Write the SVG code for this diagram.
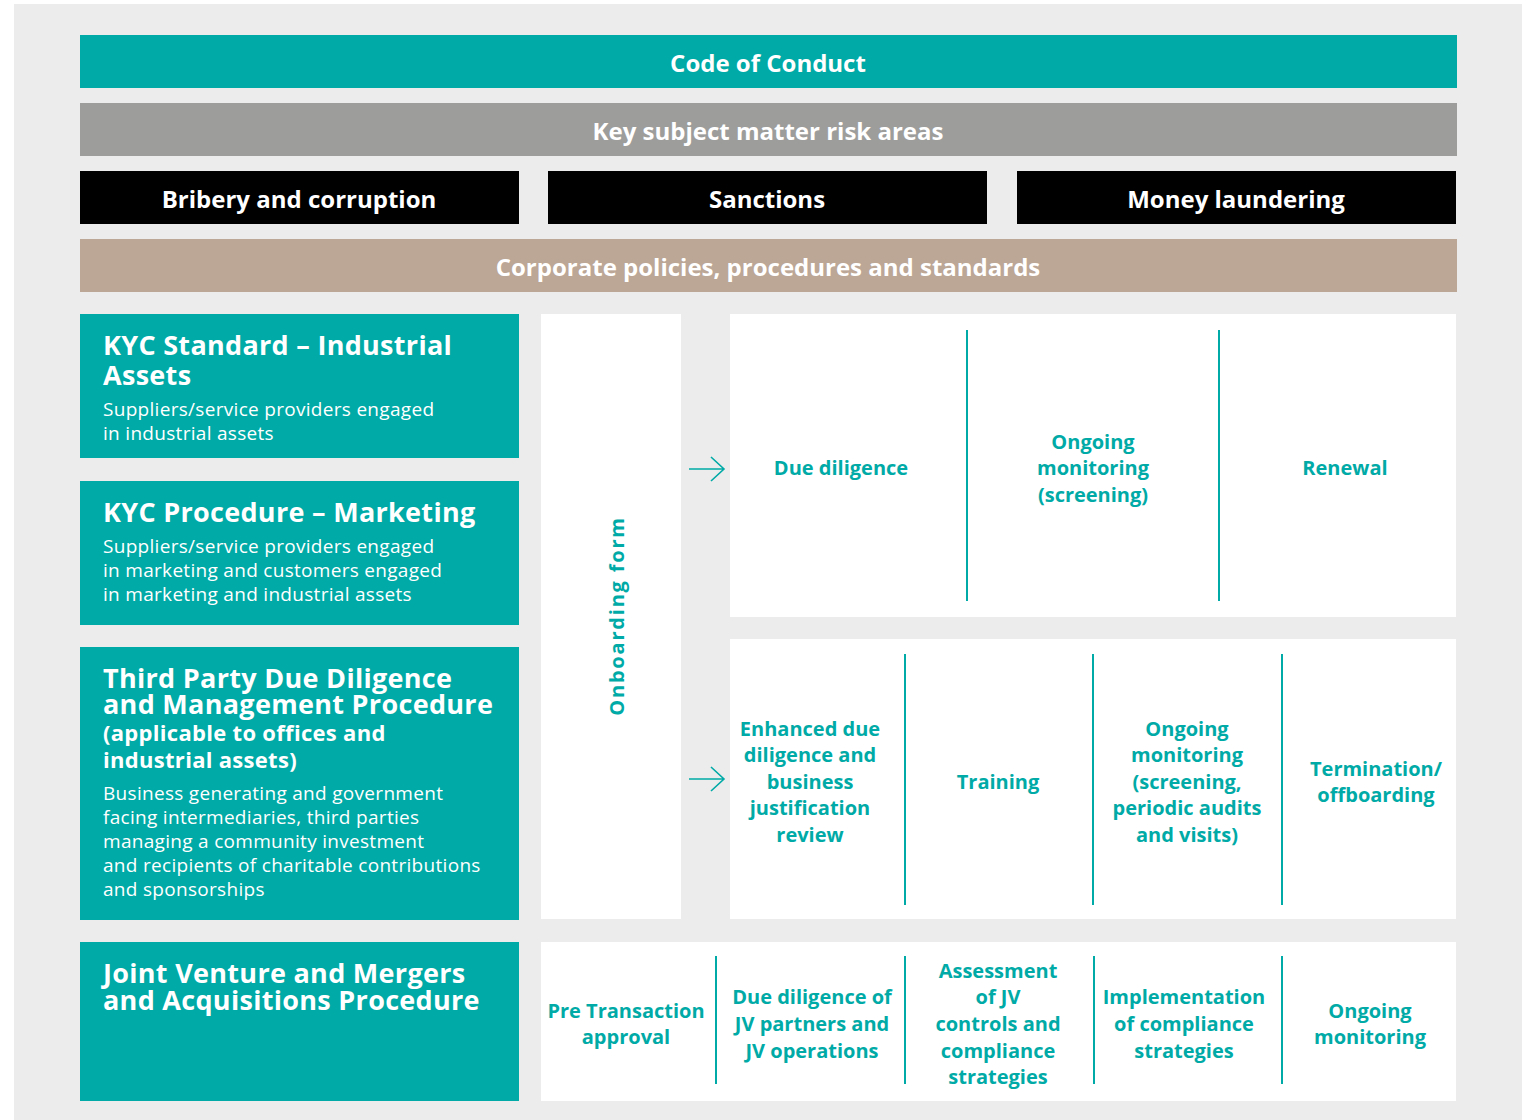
<svg xmlns="http://www.w3.org/2000/svg" width="1522" height="1120" viewBox="0 0 1522 1120">
<style>
.bg{fill:#ececec}
.teal{fill:#00aaa6}
.white{fill:#ffffff}
.hd{font-family:"Open Sans","Liberation Sans",sans-serif;font-weight:700;fill:#ffffff;text-anchor:middle;font-size:24px}
.tt{font-family:"Open Sans","Liberation Sans",sans-serif;font-weight:700;fill:#ffffff;letter-spacing:0.3px}
.bd{font-family:"Open Sans","Liberation Sans",sans-serif;font-weight:400;fill:#ffffff;font-size:19px;letter-spacing:0.3px}
.lb{font-family:"Open Sans","Liberation Sans",sans-serif;font-weight:700;fill:#00aaa6;text-anchor:middle;font-size:20px}
.div{stroke:#00aaa6;stroke-width:2;fill:none}
.arr{stroke:#00aaa6;stroke-width:1.6;fill:none}
</style>
<rect x="0" y="0" width="1522" height="1120" fill="#ffffff"/>
<rect class="bg" x="14" y="4" width="1508" height="1116"/>

<g id="code-of-conduct">
<rect class="teal" x="80" y="35" width="1377" height="53"/>
<text class="hd" x="768" y="72">Code of Conduct</text>
</g>
<g id="key-risk-areas">
<rect x="80" y="103" width="1377" height="53" fill="#9d9d9b"/>
<text class="hd" x="768" y="140">Key subject matter risk areas</text>
</g>
<g id="bribery">
<rect x="80" y="171" width="439" height="53" fill="#000000"/>
<text class="hd" x="299" y="208">Bribery and corruption</text>
</g>
<g id="sanctions">
<rect x="548" y="171" width="439" height="53" fill="#000000"/>
<text class="hd" x="767" y="208">Sanctions</text>
</g>
<g id="money-laundering">
<rect x="1017" y="171" width="439" height="53" fill="#000000"/>
<text class="hd" x="1236" y="208">Money laundering</text>
</g>
<g id="corporate-policies">
<rect x="80" y="239" width="1377" height="53" fill="#bca695"/>
<text class="hd" x="768" y="276">Corporate policies, procedures and standards</text>
</g>

<g id="kyc-standard">
<rect class="teal" x="80" y="314" width="439" height="144"/>
<text class="tt" x="103" y="355" font-size="27">KYC Standard – Industrial</text>
<text class="tt" x="103" y="385" font-size="27">Assets</text>
<text class="bd" x="103" y="416">Suppliers/service providers engaged</text>
<text class="bd" x="103" y="440">in industrial assets</text>
</g>
<g id="kyc-procedure">
<rect class="teal" x="80" y="481" width="439" height="144"/>
<text class="tt" x="103" y="522" font-size="27">KYC Procedure – Marketing</text>
<text class="bd" x="103" y="553">Suppliers/service providers engaged</text>
<text class="bd" x="103" y="577">in marketing and customers engaged</text>
<text class="bd" x="103" y="601">in marketing and industrial assets</text>
</g>
<g id="third-party">
<rect class="teal" x="80" y="647" width="439" height="273"/>
<text class="tt" x="103" y="688" font-size="27">Third Party Due Diligence</text>
<text class="tt" x="103" y="714" font-size="27">and Management Procedure</text>
<text class="tt" x="103" y="741" font-size="22">(applicable to offices and</text>
<text class="tt" x="103" y="768" font-size="22">industrial assets)</text>
<text class="bd" x="103" y="800">Business generating and government</text>
<text class="bd" x="103" y="824">facing intermediaries, third parties</text>
<text class="bd" x="103" y="848">managing a community investment</text>
<text class="bd" x="103" y="872">and recipients of charitable contributions</text>
<text class="bd" x="103" y="896">and sponsorships</text>
</g>
<g id="jv-ma">
<rect class="teal" x="80" y="942" width="439" height="159"/>
<text class="tt" x="103" y="983" font-size="27">Joint Venture and Mergers</text>
<text class="tt" x="103" y="1010" font-size="27">and Acquisitions Procedure</text>
</g>

<g id="onboarding-form">
<rect class="white" x="541" y="314" width="140" height="605"/>
<text class="lb" transform="translate(624,616) rotate(-90)" font-size="27" letter-spacing="1.8">Onboarding form</text>
</g>

<g id="kyc-process">
<rect class="white" x="730" y="314" width="726" height="303"/>
<text class="lb" x="841" y="475">Due diligence</text>
<text class="lb" x="1093" y="449">Ongoing</text>
<text class="lb" x="1093" y="475">monitoring</text>
<text class="lb" x="1093" y="502">(screening)</text>
<text class="lb" x="1345" y="475">Renewal</text>
</g>

<g id="tpdd-process">
<rect class="white" x="730" y="639" width="726" height="280"/>
<text class="lb" x="810" y="736">Enhanced due</text>
<text class="lb" x="810" y="762">diligence and</text>
<text class="lb" x="810" y="789">business</text>
<text class="lb" x="810" y="815">justification</text>
<text class="lb" x="810" y="842">review</text>
<text class="lb" x="998" y="789">Training</text>
<text class="lb" x="1187" y="736">Ongoing</text>
<text class="lb" x="1187" y="762">monitoring</text>
<text class="lb" x="1187" y="789">(screening,</text>
<text class="lb" x="1187" y="815">periodic audits</text>
<text class="lb" x="1187" y="842">and visits)</text>
<text class="lb" x="1376" y="776">Termination/</text>
<text class="lb" x="1376" y="802">offboarding</text>
</g>

<g id="jv-process">
<rect class="white" x="541" y="942" width="915" height="159"/>
<text class="lb" x="626" y="1018">Pre Transaction</text>
<text class="lb" x="626" y="1044">approval</text>
<text class="lb" x="812" y="1004">Due diligence of</text>
<text class="lb" x="812" y="1031">JV partners and</text>
<text class="lb" x="812" y="1058">JV operations</text>
<text class="lb" x="998" y="978">Assessment</text>
<text class="lb" x="998" y="1004">of JV</text>
<text class="lb" x="998" y="1031">controls and</text>
<text class="lb" x="998" y="1058">compliance</text>
<text class="lb" x="998" y="1084">strategies</text>
<text class="lb" x="1184" y="1004">Implementation</text>
<text class="lb" x="1184" y="1031">of compliance</text>
<text class="lb" x="1184" y="1058">strategies</text>
<text class="lb" x="1370" y="1018">Ongoing</text>
<text class="lb" x="1370" y="1044">monitoring</text>
</g>

<g id="connectors">
<line class="div" x1="967" y1="330" x2="967" y2="601"/>
<line class="div" x1="1219" y1="330" x2="1219" y2="601"/>
<line class="div" x1="905" y1="654" x2="905" y2="905"/>
<line class="div" x1="1093" y1="654" x2="1093" y2="905"/>
<line class="div" x1="1282" y1="654" x2="1282" y2="905"/>
<line class="div" x1="716" y1="956" x2="716" y2="1084"/>
<line class="div" x1="905" y1="956" x2="905" y2="1084"/>
<line class="div" x1="1094" y1="956" x2="1094" y2="1084"/>
<line class="div" x1="1282" y1="956" x2="1282" y2="1084"/>
<path class="arr" d="M689 469 H724 M711 457 L724 469 L711 481"/>
<path class="arr" d="M689 779 H724 M711 767 L724 779 L711 791"/>
</g>
</svg>
